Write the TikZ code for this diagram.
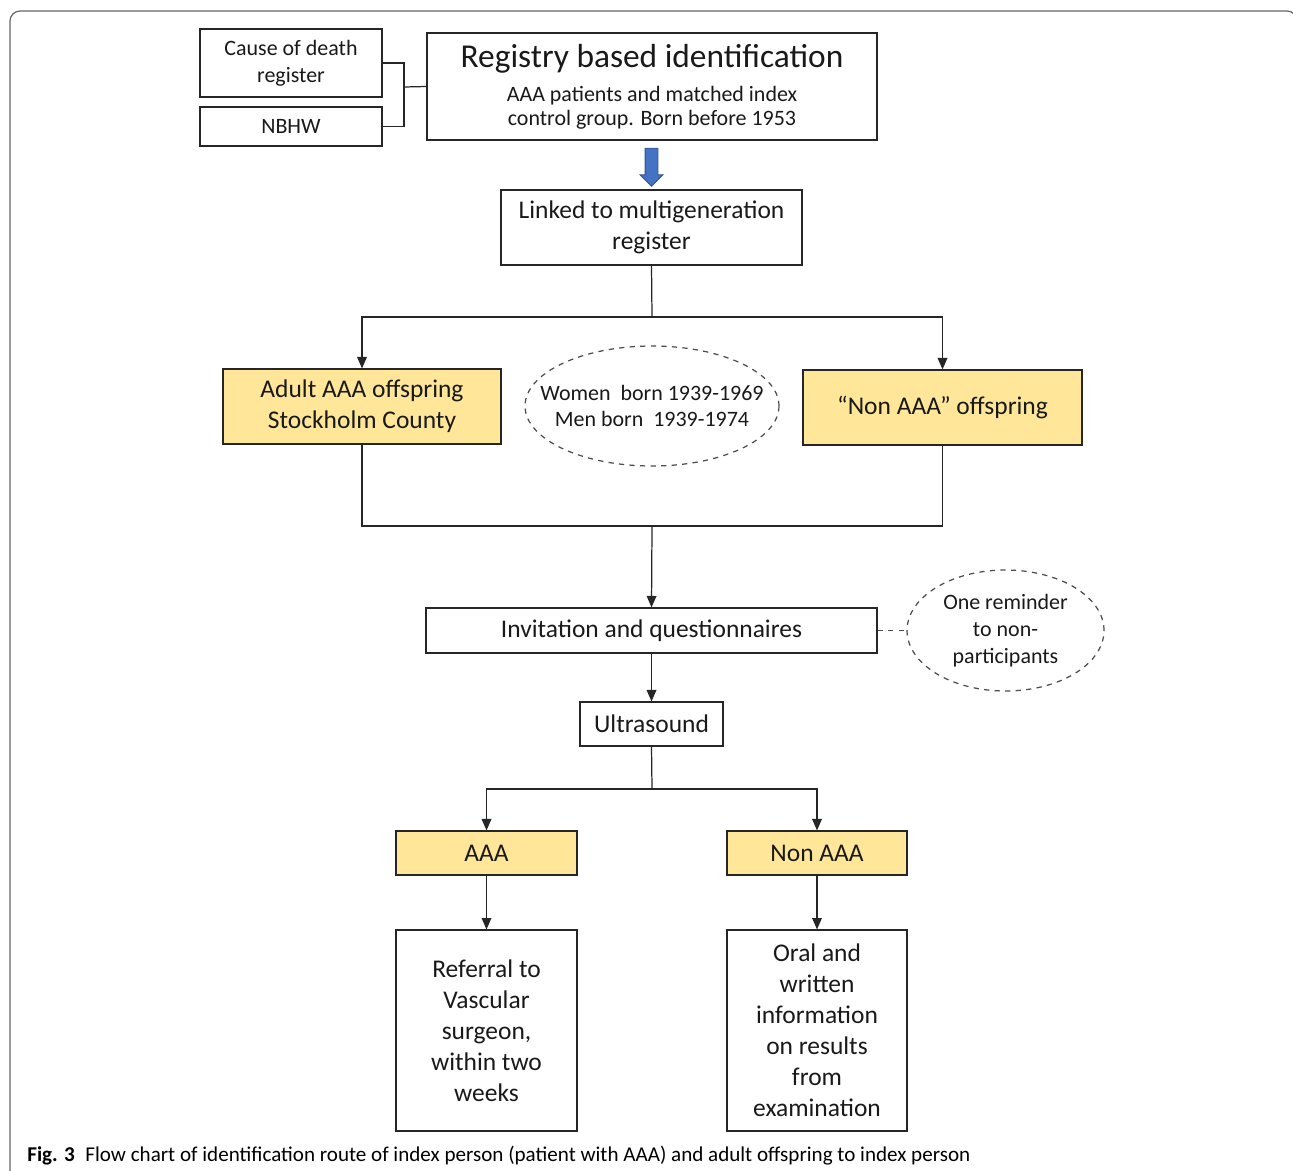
\documentclass[tikz,border=0pt]{standalone}
\usepackage{fontspec}
\setmainfont{Carlito}
\usetikzlibrary{arrows.meta,shapes.geometric,shapes.arrows}
\definecolor{offyellow}{HTML}{FFE699}
\definecolor{arrowblue}{HTML}{4472C4}
\definecolor{arrowedge}{HTML}{2F528F}

\begin{document}
\begin{tikzpicture}[x=0.02cm, y=-0.02cm,
    box/.style={draw=black!85, line width=0.7pt, align=center, inner sep=2pt,
      text=black!90, font=\fontsize{14.5}{17.6}\selectfont},
    ybox/.style={box, fill=offyellow},
    small/.style={font=\fontsize{12.5}{15.3}\selectfont},
    note/.style={ellipse, draw=black!70, dashed, line width=0.7pt, align=center,
      inner sep=0pt, text=black!90, small},
    wire/.style={draw=black!85, line width=0.7pt},
    arr/.style={wire, -{Triangle[length=6.5pt,width=5.5pt]}}]
\useasboundingbox (0,0) rectangle (1293,1170);
% frame of the figure
\draw[black!60, line width=0.7pt, rounded corners=0.2cm] (10,1185) -- (10,11) -- (1297,11) -- (1297,1185);

% registers
\node[box, small, minimum width=3.64cm, minimum height=1.36cm] (cod) at (291,63) {Cause of death\\register};
\node[box, small, minimum width=3.64cm, minimum height=0.78cm] (nbhw) at (291,126.5) {NBHW};
\node[box, minimum width=9cm, minimum height=2.14cm] (reg) at (652,86.5)
  {{\fontsize{19}{23}\selectfont Registry based identification}\\[2pt]
   {\fontsize{12.5}{13.6}\selectfont AAA patients and matched index}\\[-4pt]
   {\fontsize{12.5}{13.6}\selectfont control group. Born before 1953}};
\node[single arrow, rotate=-90, fill=arrowblue, draw=arrowedge, line width=0.5pt,
  minimum height=0.76cm, inner xsep=0pt, inner ysep=0.12cm,
  single arrow head extend=0.1cm] (down) at (651.5,164) {};
\node[box, minimum width=6.02cm, minimum height=1.5cm] (link) at (651.5,227.5) {Linked to multigeneration\\register};

% offspring groups
\node[ybox, minimum width=5.56cm, minimum height=1.5cm] (adult) at (362,406.5) {Adult AAA offspring\\Stockholm County};
\node[align=center, small, text=black!90] (born) at (652,406) {Women~ born 1939-1969\\Men born~ 1939-1974};
\draw[draw=black!70, dashed, line width=0.7pt] (born.center) ellipse [x radius=2.54cm, y radius=1.2cm];
\node[ybox, minimum width=5.58cm, minimum height=1.5cm] (nonoff) at (942.5,407.5) {\textquotedblleft Non AAA\textquotedblright\ offspring};

% study steps
\node[box, minimum width=9.02cm, minimum height=0.9cm] (invite) at (651.5,630.5) {Invitation and questionnaires};
\node[note, minimum width=3.94cm, minimum height=2.42cm] (remind) at (1005.5,630.5) {One reminder\\to non-\\participants};
\node[box, minimum width=2.86cm, minimum height=0.88cm] (us) at (651.5,724) {Ultrasound};
\node[ybox, minimum width=3.62cm, minimum height=0.88cm] (aaa) at (486.5,853) {AAA};
\node[ybox, minimum width=3.6cm, minimum height=0.88cm] (nonaaa) at (817,853) {Non AAA};
\node[box, minimum width=3.62cm, minimum height=4.02cm] (refer) at (486.5,1030.5) {Referral to\\Vascular\\surgeon,\\within two\\weeks};
\node[box, minimum width=3.6cm, minimum height=4.02cm] (oral) at (817,1030.5) {Oral and\\written\\information\\on results\\from\\examination};

% connectors
\coordinate (j1) at (404,87);
\coordinate (j2) at (652,317);
\coordinate (j3) at (652,526);
\coordinate (j4) at (652,789);
\draw[wire] (cod.east) -| (j1) |- (nbhw.east);
\draw[wire] (j1) -- (reg.west);
\draw[wire] (link.south) -- (j2);
\draw[arr] (j2) -| (adult.north);
\draw[arr] (j2) -| (nonoff.north);
\draw[wire] (adult.south) |- (j3) -| (nonoff.south);
\draw[arr] (j3) -- (invite.north);
\draw[wire, dashed, draw=black!70] (invite.east) -- (remind.west);
\draw[arr] (invite) -- (us);
\draw[wire] (us.south) -- (j4);
\draw[arr] (j4) -| (aaa.north);
\draw[arr] (j4) -| (nonaaa.north);
\draw[arr] (aaa) -- (refer);
\draw[arr] (nonaaa) -- (oral);

% caption
\node[anchor=base west, inner sep=0pt, font=\fontsize{12}{15}\selectfont] (cap) at (27,1161)
  {\textbf{Fig. 3}\enspace Flow chart of identification route of index person (patient with AAA) and adult offspring to index person};
\end{tikzpicture}
\end{document}
